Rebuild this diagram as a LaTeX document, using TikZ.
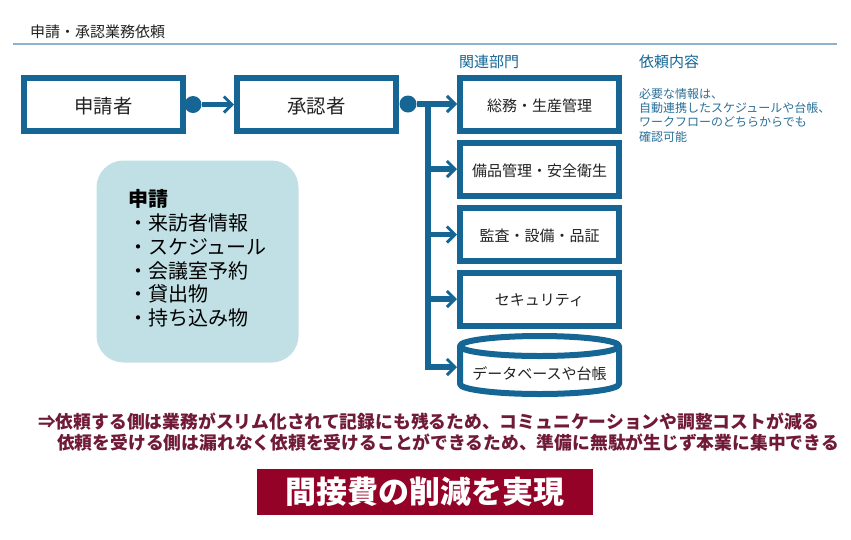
\documentclass[tikz,border=0pt]{standalone}
\usepackage{fontspec}
\setmainfont{Noto Sans CJK JP}
\usetikzlibrary{arrows.meta}
\definecolor{bl}{HTML}{156694}
\definecolor{rule}{HTML}{8CB2CE}
\definecolor{pale}{HTML}{C1E0E5}
\definecolor{wine}{HTML}{940327}
\definecolor{winetxt}{HTML}{701A38}
\definecolor{desc}{HTML}{2A7099}
\definecolor{ink}{HTML}{222222}
\newcommand{\fs}[2]{\fontsize{#1}{#2}\selectfont}
\newcommand{\lowered}[1]{\raisebox{-1.5pt}[\height][\depth]{#1}}
\tikzset{
 x=1pt,y=-1pt,
 mainbox/.style={draw=bl,line width=6pt,fill=white,minimum width=159pt,minimum height=53pt,inner sep=0pt,text=ink},
 dept/.style={mainbox,font=\fs{15}{18}},
 big/.style={mainbox,font=\fs{19.4}{23}},
 dotn/.style={circle,fill=bl,inner sep=0pt,minimum size=17pt},
 conn/.style={draw=bl,line width=5.5pt},
 arr/.style={conn,-{Straight Barb[length=8pt,width=16pt,line width=3pt]}},
 head/.style={text=bl,font=\fs{15}{18},inner sep=0pt},
}
\begin{document}
\begin{tikzpicture}
\useasboundingbox (0,0) rectangle (851,539);
\fill[white] (0,0) rectangle (851,539);
\node[anchor=west,inner sep=0pt,text=ink,font=\fs{15}{18}] (title) at (30,31.5) {申請・承認業務依頼};
\coordinate (ruleL) at (13,44);
\coordinate (ruleR) at (837,44);
\draw[rule,line width=2pt] (ruleL) -- (ruleR);

\node[big] (app) at (103.5,104.5) {\lowered{申請者}};
\node[big] (appr) at (316.5,104.5) {\lowered{承認者}};
\node[dept] (b1) at (539.5,104) {\lowered{総務・生産管理}};
\node[dept] (b2) at (539.5,169) {\lowered{備品管理・安全衛生}};
\node[dept] (b3) at (539.5,234.5) {\lowered{監査・設備・品証}};
\node[dept] (b4) at (539.5,299) {\lowered{セキュリティ}};
\coordinate (db) at (539.5,365);
\draw[draw=bl,line width=6pt,fill=white,line join=round]
  (460,346) -- (460,384) arc[start angle=180,end angle=360,x radius=79.5pt,y radius=10pt] -- (619,346)
  arc[start angle=0,end angle=180,x radius=79.5pt,y radius=10pt] -- cycle;
\draw[draw=bl,line width=6pt] (460,346) arc[start angle=180,end angle=360,x radius=79.5pt,y radius=10pt];
\node[inner sep=0pt,text=ink,font=\fs{15}{18}] (dbt) at (539.5,374) {データベースや台帳};

\node[dotn] (d1) at (193,104.5) {};
\node[dotn] (d2) at (408,104) {};
\coordinate (trunk) at (428,104);
\coordinate (j5) at (428,367);
\coordinate (dbw) at (457,367);
\draw[arr] (d1) -- (appr.west);
\draw[arr] (d2) -- (b1.west);
\draw[conn,line cap=rect] (trunk) -- (j5);
\draw[arr] (trunk |- b2.west) -- (b2.west);
\draw[arr] (trunk |- b3.west) -- (b3.west);
\draw[arr] (trunk |- b4.west) -- (b4.west);
\draw[arr] (j5) -- (dbw);

\node[anchor=west,head] (h1) at (459,61.5) {関連部門};
\node[anchor=west,head] (h2) at (639,61.5) {依頼内容};
\node[anchor=north west,inner sep=0pt,align=left,text=desc,font=\fs{12}{14.3}] (dtxt) at (639,88) {必要な情報は、\\自動連携したスケジュールや台帳、\\ワークフローのどちらからでも\\確認可能};

\node[fill=pale,rounded corners=27pt,minimum width=202pt,minimum height=202pt,inner sep=0pt] (req) at (197.5,261.5) {};
\node[anchor=north west,inner sep=0pt,align=left,text=black,font=\fs{20}{23.9}] (reqt) at (128,189) {\textbf{申請}\\・来訪者情報\\・スケジュール\\・会議室予約\\・貸出物\\・持ち込み物};

\node[anchor=west,inner sep=0pt,text=winetxt,font=\fs{17.78}{21}\bfseries] (l1) at (38,422) {⇒依頼する側は業務がスリム化されて記録にも残るため、コミュニケーションや調整コストが減る};
\node[anchor=west,inner sep=0pt,text=winetxt,font=\fs{17.78}{21}\bfseries] (l2) at (57,443) {依頼を受ける側は漏れなく依頼を受けることができるため、準備に無駄が生じず本業に集中できる};
\node[fill=wine,text=white,minimum width=336pt,minimum height=46pt,inner sep=0pt,font=\fs{31}{36}\bfseries] (ban) at (425,492) {間接費の削減を実現};
\end{tikzpicture}
\end{document}
